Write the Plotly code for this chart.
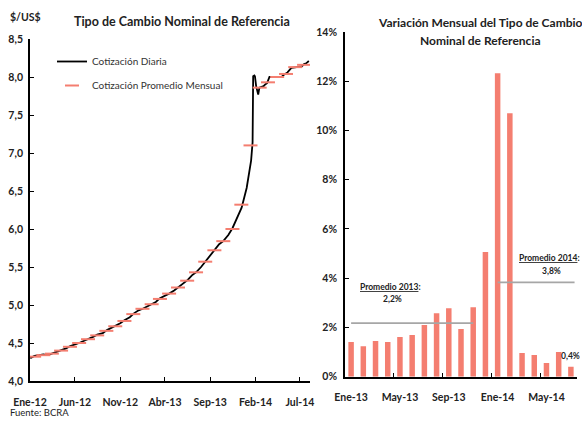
"""
Tipo de cambio nominal de referencia (BCRA) - cotizacion diaria y variacion mensual
"""
import pandas as pd
import plotly.graph_objects as go

# --- Cotizacion diaria ($/US$) ---
fechas_diarias = [
    '2012-01-02', '2012-01-16', '2012-02-01', '2012-02-15', '2012-03-01', '2012-03-15',
    '2012-04-02', '2012-04-16', '2012-05-02', '2012-05-16', '2012-06-01', '2012-06-15',
    '2012-07-02', '2012-07-16', '2012-08-01', '2012-08-15', '2012-09-03', '2012-09-17',
    '2012-10-01', '2012-10-15', '2012-11-01', '2012-11-15', '2012-12-03', '2012-12-17',
    '2013-01-02', '2013-01-16', '2013-02-01', '2013-02-15', '2013-03-01', '2013-03-15',
    '2013-04-01', '2013-04-15', '2013-05-02', '2013-05-15', '2013-06-03', '2013-06-17',
    '2013-07-01', '2013-07-15', '2013-08-01', '2013-08-15', '2013-09-02', '2013-09-16',
    '2013-10-01', '2013-10-15', '2013-11-01', '2013-11-15', '2013-12-02', '2013-12-16',
    '2014-01-02', '2014-01-10', '2014-01-17', '2014-01-22', '2014-01-23', '2014-01-24',
    '2014-01-28', '2014-01-30', '2014-02-03', '2014-02-10', '2014-02-14', '2014-02-20',
    '2014-02-28', '2014-03-05', '2014-03-12', '2014-03-20', '2014-04-01', '2014-04-15',
    '2014-04-30', '2014-05-08', '2014-05-20', '2014-06-02', '2014-06-16', '2014-06-30',
    '2014-07-07', '2014-07-15', '2014-07-22', '2014-07-31',
]
cotizacion_diaria = [
    4.30, 4.33, 4.34, 4.35, 4.34, 4.36,
    4.38, 4.41, 4.43, 4.46, 4.48, 4.50,
    4.53, 4.55, 4.58, 4.61, 4.63, 4.67,
    4.70, 4.72, 4.76, 4.80, 4.84, 4.89,
    4.93, 4.95, 4.98, 5.01, 5.04, 5.09,
    5.12, 5.15, 5.19, 5.23, 5.28, 5.33,
    5.39, 5.43, 5.50, 5.57, 5.66, 5.73,
    5.80, 5.84, 5.92, 6.01, 6.15, 6.28,
    6.54, 6.72, 6.90, 7.14, 7.72, 8.01,
    8.02, 8.01, 7.88, 7.77, 7.86, 7.87,
    7.88, 7.90, 7.92, 8.00, 8.00, 8.00,
    8.00, 8.03, 8.06, 8.12, 8.13, 8.13,
    8.14, 8.17, 8.18, 8.21,
]

# --- Cotizacion promedio mensual (marcada a mitad de mes) ---
meses_promedio = pd.date_range('2012-01-01', '2014-07-01', freq='MS') + pd.Timedelta(days=14)
cotizacion_promedio = [
    4.32, 4.34, 4.36, 4.40, 4.45, 4.50, 4.55, 4.60, 4.66, 4.72, 4.79, 4.88,
    4.95, 5.01, 5.08, 5.15, 5.23, 5.32, 5.43, 5.57, 5.72, 5.84, 6.00, 6.32,
    7.10, 7.86, 7.93, 8.00, 8.04, 8.13, 8.16,
]

# --- Variacion mensual (%) ---
meses_var = [
    'Ene-13', 'Feb-13', 'Mar-13', 'Abr-13', 'May-13', 'Jun-13', 'Jul-13', 'Ago-13',
    'Sep-13', 'Oct-13', 'Nov-13', 'Dic-13', 'Ene-14', 'Feb-14', 'Mar-14', 'Abr-14',
    'May-14', 'Jun-14', 'Jul-14',
]
variacion_mensual = [
    1.41, 1.24, 1.45, 1.41, 1.61, 1.69, 2.10, 2.58, 2.78, 1.94, 2.82, 5.06,
    12.32, 10.70, 0.96, 0.88, 0.56, 1.00, 0.40,
]

# tramos (indices de meses) donde se dibuja la linea de promedio
tramo_2013 = (0, 10)
tramo_2014 = (12, 18.3)

# ticks eje izquierdo
ticks_fecha = ['2012-01-01', '2012-06-01', '2012-11-01', '2013-04-01',
               '2013-09-01', '2014-02-01', '2014-07-01']
ticks_fecha_txt = ['Ene-12', 'Jun-12', 'Nov-12', 'Abr-13', 'Sep-13', 'Feb-14', 'Jul-14']

SALMON = '#F47E70'
GRIS = '#A6A6A6'
FONT = 'Lato'
W, H = 582, 422


def px(x):
    return x / W


def py(y):
    return 1 - y / H


x_idx = list(range(len(meses_var)))
prom_2013 = sum(variacion_mensual[:12]) / 12
prom_2014 = sum(variacion_mensual[12:]) / len(variacion_mensual[12:])

fig = go.Figure()

# Cotizacion diaria
fig.add_trace(go.Scatter(
    x=pd.to_datetime(fechas_diarias), y=cotizacion_diaria,
    mode='lines', name='Cotización Diaria',
    line=dict(color='black', width=1.8),
    xaxis='x', yaxis='y', legendgroup='a'
))

# Promedio mensual
fig.add_trace(go.Scatter(
    x=meses_promedio, y=cotizacion_promedio,
    mode='markers', name='Cotización Promedio Mensual',
    marker=dict(symbol='line-ew', size=10, line=dict(color=SALMON, width=2)),
    xaxis='x', yaxis='y', legendgroup='b'
))

# Variacion mensual
fig.add_trace(go.Bar(
    x=x_idx, y=variacion_mensual,
    marker=dict(color=SALMON, line=dict(width=0)),
    xaxis='x2', yaxis='y2', showlegend=False
))

# Lineas de promedio anual
for (x0, x1), prom in [(tramo_2013, prom_2013), (tramo_2014, prom_2014)]:
    fig.add_trace(go.Scatter(
        x=[x0, x1], y=[prom, prom], mode='lines',
        line=dict(color=GRIS, width=1.8),
        xaxis='x2', yaxis='y2', showlegend=False
    ))

tick_font = dict(family=FONT, size=10.5, color='#222222', weight='bold')
axis_common = dict(
    ticks='inside', ticklen=4, tickcolor='black', tickwidth=1.2,
    showline=True, linecolor='black', linewidth=1.8,
    showgrid=False, zeroline=False, automargin=False,
    tickfont=tick_font,
)

fig.update_layout(
    width=W, height=H,
    margin=dict(l=0, r=0, t=0, b=0),
    paper_bgcolor='white', plot_bgcolor='white',
    separators=',.',
    font=dict(family=FONT, color='#222222'),
    xaxis=dict(
        domain=[px(30), px(310)],
        type='date',
        range=['2012-01-01', '2014-08-04'],
        tickvals=ticks_fecha, ticktext=ticks_fecha_txt,
        ticklabelstandoff=10,
        **axis_common,
    ),
    yaxis=dict(
        domain=[py(381), py(39)],
        range=[4.0, 8.5], dtick=0.5, tickformat='.1f',
        ticklabelstandoff=3,
        **axis_common,
    ),
    xaxis2=dict(
        domain=[px(345), px(577)],
        anchor='y2',
        range=[-0.5, len(meses_var) - 0.5],
        tickvals=x_idx[::4], ticktext=meses_var[::4],
        minor=dict(tickvals=[i + 3.5 for i in x_idx[::4]][:-1], ticks='inside',
                   ticklen=4, tickcolor='black', tickwidth=1.2),
        ticklabelstandoff=10,
        **{**axis_common, 'ticks': ''},
    ),
    yaxis2=dict(
        domain=[py(376.7), py(32)],
        anchor='x2',
        range=[0, 14], dtick=2, ticksuffix='%',
        ticklabelstandoff=4,
        **axis_common,
    ),
    bargap=0.55,
    showlegend=True,
    legend=dict(
        x=px(52), y=py(47), xanchor='left', yanchor='top',
        bgcolor='rgba(0,0,0,0)',
        font=dict(family=FONT, size=10, color='#333333'),
        tracegroupgap=5,
    ),
)

annotations = [
    dict(x=px(8), y=py(17), text='$/US$', font=dict(size=10.5, weight='bold')),
    dict(x=px(182), y=py(22), text='<b>Tipo de Cambio Nominal de Referencia</b>',
         font=dict(size=12.5), xanchor='center'),
    dict(x=px(480), y=py(23), text='<b>Variación Mensual del Tipo de Cambio</b>',
         font=dict(size=12), xanchor='center'),
    dict(x=px(480), y=py(41), text='<b>Nominal de Referencia</b>',
         font=dict(size=12), xanchor='center'),
    dict(x=px(8), y=py(412), text='Fuente: BCRA', font=dict(size=9.5)),
    dict(x=px(391), y=py(287),
         text='<b><span style="text-decoration:underline">Promedio 2013</span>:</b>',
         font=dict(size=8.5), xanchor='center'),
    dict(x=px(392), y=py(299), text=f'<b>{prom_2013:.1f}%</b>'.replace('.', ','),
         font=dict(size=8.5), xanchor='center'),
    dict(x=px(549), y=py(258),
         text='<b><span style="text-decoration:underline">Promedio 2014</span>:</b>',
         font=dict(size=8.5), xanchor='center'),
    dict(x=px(551), y=py(271), text=f'<b>{prom_2014:.1f}%</b>'.replace('.', ','),
         font=dict(size=8.5), xanchor='center'),
    dict(x=px(582), y=py(356),
         text=f'<b>{variacion_mensual[-1]:.1f}%</b>'.replace('.', ','),
         font=dict(size=8.5), xanchor='right'),
]
for a in annotations:
    a.setdefault('xanchor', 'left')
    fig.add_annotation(xref='paper', yref='paper', yanchor='middle',
                       showarrow=False, **a)

# sin margen del body para que el grafico ocupe la ventana exacta
fig.write_html("out.html", config={'displayModeBar': False},
               post_script="document.body.style.margin='0';")
